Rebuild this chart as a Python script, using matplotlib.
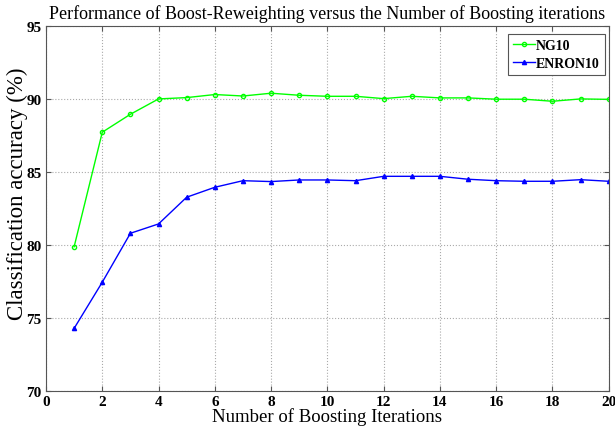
import matplotlib
matplotlib.use('Agg')
import matplotlib.pyplot as plt

plt.rcParams['font.family'] = ['Liberation Serif', 'DejaVu Serif']

iterations = list(range(1, 21))
ng10 = [79.88, 87.72, 88.95, 90.0, 90.09, 90.3, 90.2, 90.39, 90.25, 90.18,
        90.18, 90.02, 90.18, 90.07, 90.07, 89.98, 89.98, 89.84, 90.0, 89.97]
enron10 = [74.29, 77.45, 80.8, 81.44, 83.27, 83.95, 84.4, 84.34, 84.45, 84.45,
           84.4, 84.7, 84.7, 84.7, 84.5, 84.4, 84.36, 84.36, 84.47, 84.36]

fig = plt.figure(figsize=(6.15, 4.27), dpi=100)
ax = fig.add_axes([0.0748, 0.082, 0.915, 0.855])

ax.plot(iterations, ng10, color='#00ff00', marker='o', markersize=3,
        markerfacecolor='none', linewidth=1, label='NG10')
ax.plot(iterations, enron10, color='#0000ff', marker='^', markersize=3,
        linewidth=1, label='ENRON10')

ax.set_xlim(0, 20)
ax.set_ylim(70, 95)
ax.set_xticks(range(0, 21, 2))
ax.set_yticks(range(70, 96, 5))
ax.grid(True, linestyle=':', color='#aaaaaa', linewidth=0.8)
ax.tick_params(direction='in', top=True, right=True, labelsize=11,
               color='#555555', pad=3)
for lab in ax.get_xticklabels() + ax.get_yticklabels():
    lab.set_fontweight('bold')
for sp in ax.spines.values():
    sp.set_color('#555555')

ax.set_title('Performance of Boost-Reweighting versus the Number of Boosting iterations',
             fontsize=13, pad=6)
ax.set_xlabel('Number of Boosting Iterations', fontsize=13.5, labelpad=-1)
ax.set_ylabel('Classification accuracy (%)', fontsize=16.5)
ax.yaxis.set_label_coords(-0.032, 0.544)

leg = ax.legend(loc='upper right', bbox_to_anchor=(0.993, 0.978),
                borderaxespad=0, prop={'weight': 'bold', 'size': 10},
                fancybox=False, edgecolor='#555555', handlelength=1.6,
                handletextpad=0.1, borderpad=0.35, labelspacing=0.4,
                framealpha=1)
leg.get_frame().set_linewidth(0.8)

fig.savefig('out.png', dpi=100)
